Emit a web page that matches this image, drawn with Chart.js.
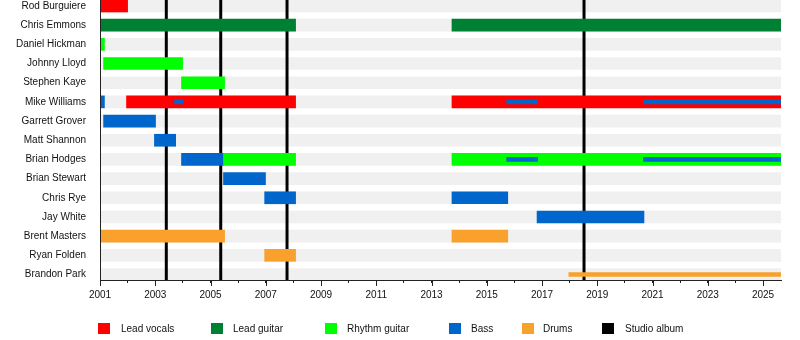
<!DOCTYPE html>
<html>
<head>
<meta charset="utf-8">
<title>Band members timeline</title>
<script src="https://cdn.jsdelivr.net/npm/chart.js@4/dist/chart.umd.min.js"></script>
<style>
  html, body { margin: 0; padding: 0; background: #fff; }
  #wrap { position: relative; width: 800px; height: 340px; }
  #legend { position: absolute; left: 0; top: 0; width: 800px; height: 340px; pointer-events: none;
            font-family: 'Liberation Sans', Arial, sans-serif; font-size: 10px; color: #111; }
  .sw { position: absolute; top: 323px; width: 12px; height: 11px; }
  .lb { position: absolute; top: 322px; line-height: 13px; white-space: nowrap; }
</style>
</head>
<body>
<div id="wrap">
  <canvas id="c" width="800" height="340"></canvas>
  <div id="legend"></div>
</div>
<script>
// Timeline end (mid 2025) and start
const START = 2001;
const END = 2025.65;

const members = [
  'Rod Burguiere', 'Chris Emmons', 'Daniel Hickman', 'Johnny Lloyd', 'Stephen Kaye',
  'Mike Williams', 'Garrett Grover', 'Matt Shannon', 'Brian Hodges', 'Brian Stewart',
  'Chris Rye', 'Jay White', 'Brent Masters', 'Ryan Folden', 'Brandon Park'
];

// [member, from, to]
const leadVocals = [
  ['Rod Burguiere', 2001, 2002],
  ['Mike Williams', 2001.96, 2008.08],
  ['Mike Williams', 2013.74, END]
];
const leadGuitar = [
  ['Chris Emmons', 2001, 2008.08],
  ['Chris Emmons', 2013.74, END]
];
const rhythmGuitar = [
  ['Daniel Hickman', 2001, 2001.16],
  ['Johnny Lloyd', 2001.13, 2003.99],
  ['Stephen Kaye', 2003.95, 2005.51],
  ['Brian Hodges', 2005.47, 2008.08],
  ['Brian Hodges', 2013.74, END]
];
const bass = [
  ['Mike Williams', 2001, 2001.16],
  ['Garrett Grover', 2001.13, 2003.01],
  ['Matt Shannon', 2002.97, 2003.74],
  ['Brian Hodges', 2003.95, 2005.47],
  ['Brian Stewart', 2005.47, 2006.99],
  ['Chris Rye', 2006.96, 2008.08],
  ['Chris Rye', 2013.74, 2015.76],
  ['Jay White', 2016.82, 2020.69]
];
// secondary bass duties, drawn as thin lines
const bassSecondary = [
  ['Mike Williams', 2003.70, 2004.0],
  ['Mike Williams', 2015.72, 2016.84],
  ['Mike Williams', 2020.67, END],
  ['Brian Hodges', 2015.72, 2016.84],
  ['Brian Hodges', 2020.67, END]
];
const drums = [
  ['Brent Masters', 2001, 2005.51],
  ['Ryan Folden', 2006.96, 2008.08],
  ['Brent Masters', 2013.74, 2015.76]
];
const drumsSecondary = [
  ['Brandon Park', 2017.97, END]
];
const studioAlbums = [2003.40, 2005.37, 2007.77, 2018.52];

const COLORS = {
  vocals: '#ff0000',
  lead: '#008033',
  rhythm: '#00ff00',
  bass: '#0066cc',
  drums: '#f9a12c',
  album: '#000000',
  stripe: '#f0f0f0',
  axis: '#222222'
};

const toPoints = spans => spans.map(([m, a, b]) => ({ x: [a, b], y: members.indexOf(m) }));

function barSet(label, spans, color, thickness, order) {
  return {
    label, data: toPoints(spans), backgroundColor: color, borderWidth: 0,
    barThickness: thickness, grouped: false, order
  };
}

const stripes = barSet('stripes', members.map(m => [m, START, END]), COLORS.stripe, 12, 100);

// album release markers sit above the stripes but below the member bars
const albumLines = {
  id: 'albumLines',
  afterDatasetDraw(chart, args) {
    if (args.meta.label !== 'stripes') return;
    const { ctx, chartArea, scales } = chart;
    ctx.save();
    ctx.strokeStyle = COLORS.album;
    ctx.lineWidth = 3;
    studioAlbums.forEach(yr => {
      const x = scales.x.getPixelForValue(yr);
      ctx.beginPath();
      ctx.moveTo(x, chartArea.top);
      ctx.lineTo(x, chartArea.bottom);
      ctx.stroke();
    });
    ctx.restore();
  }
};

// longer tick marks on labelled (odd) years
const majorTicks = {
  id: 'majorTicks',
  afterDraw(chart) {
    const { ctx, chartArea, scales } = chart;
    ctx.save();
    ctx.strokeStyle = COLORS.axis;
    ctx.lineWidth = 1;
    for (let yr = START; yr <= 2025; yr += 2) {
      const x = Math.round(scales.x.getPixelForValue(yr)) + 0.5;
      ctx.beginPath();
      ctx.moveTo(x, chartArea.bottom);
      ctx.lineTo(x, chartArea.bottom + 6);
      ctx.stroke();
    }
    ctx.restore();
  }
};

Chart.defaults.font.family = "'Liberation Sans', Arial, sans-serif";
Chart.defaults.font.size = 10;
Chart.defaults.color = '#111';

new Chart(document.getElementById('c'), {
  type: 'bar',
  data: {
    datasets: [
      stripes,
      barSet('Lead vocals', leadVocals, COLORS.vocals, 12, 10),
      barSet('Lead guitar', leadGuitar, COLORS.lead, 12, 10),
      barSet('Rhythm guitar', rhythmGuitar, COLORS.rhythm, 12, 10),
      barSet('Bass', bass, COLORS.bass, 12, 10),
      barSet('Drums', drums, COLORS.drums, 12, 10),
      barSet('Bass (secondary)', bassSecondary, COLORS.bass, 4, 1),
      barSet('Drums (secondary)', drumsSecondary, COLORS.drums, 4, 1)
    ]
  },
  options: {
    indexAxis: 'y',
    responsive: false,
    animation: false,
    layout: { padding: { left: 0, right: 19, top: 0, bottom: 40 } },
    plugins: { legend: { display: false }, tooltip: { enabled: false } },
    scales: {
      x: {
        type: 'linear',
        position: 'bottom',
        min: START,
        max: END,
        offset: false,
        grid: { display: true, drawOnChartArea: false, drawTicks: true, tickLength: 3, color: COLORS.axis, offset: false, z: 1 },
        border: { display: true, color: COLORS.axis, width: 1, z: 1 },
        ticks: {
          stepSize: 1,
          includeBounds: false,
          autoSkip: false,
          maxRotation: 0,
          padding: 6,
          color: '#111',
          callback: v => (Number.isInteger(v) && (v - START) % 2 === 0) ? String(v) : ''
        },
        afterFit: s => { s.height = 20; s.paddingLeft = 0; s.paddingRight = 0; }
      },
      y: {
        type: 'linear',
        reverse: true,
        offset: false,
        grace: 0,
        min: -0.3125,
        max: 14.287,
        grid: { display: false, offset: false },
        border: { display: true, color: COLORS.axis, width: 1, z: 1 },
        afterBuildTicks: s => { s.ticks = members.map((_, i) => ({ value: i })); },
        ticks: {
          autoSkip: false,
          padding: 6,
          color: '#111',
          callback: v => members[v]
        },
        afterFit: s => { s.width = 100; s.paddingTop = 0; s.paddingBottom = 0; }
      }
    }
  },
  plugins: [albumLines, majorTicks]
});

// legend row
const legendItems = [
  ['Lead vocals', COLORS.vocals, 98, 121],
  ['Lead guitar', COLORS.lead, 211, 233],
  ['Rhythm guitar', COLORS.rhythm, 325, 347],
  ['Bass', COLORS.bass, 449, 471],
  ['Drums', COLORS.drums, 522, 543],
  ['Studio album', COLORS.album, 602, 625]
];
const legend = document.getElementById('legend');
legendItems.forEach(([text, color, bx, tx]) => {
  const sw = document.createElement('div');
  sw.className = 'sw';
  sw.style.left = bx + 'px';
  sw.style.background = color;
  legend.appendChild(sw);
  const lb = document.createElement('div');
  lb.className = 'lb';
  lb.style.left = tx + 'px';
  lb.textContent = text;
  legend.appendChild(lb);
});
</script>
</body>
</html>
